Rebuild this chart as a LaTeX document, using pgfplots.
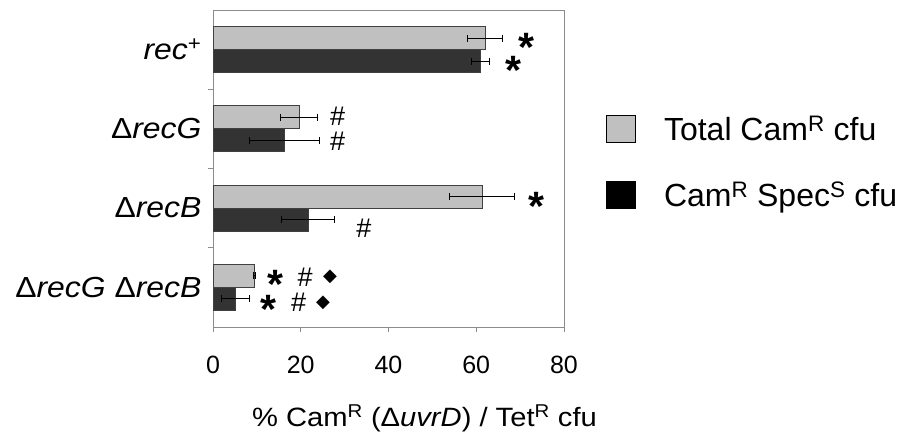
\documentclass[border=0pt]{standalone}
\usepackage{pgfplots}
\pgfplotsset{compat=1.18}
\usepackage{fontspec}
\setmainfont{Liberation Sans}
\newfontfamily\wide[FakeStretch=1.1]{Liberation Sans}
\newfontfamily\djv{DejaVu Sans}
\definecolor{lgray}{HTML}{C0C0C0}
\definecolor{dgray}{HTML}{333333}
\definecolor{axgray}{HTML}{8C8C8C}
\newcommand{\fs}{\fontsize{25}{30}\selectfont}
\newcommand{\astm}[2]{\node[font=\fontsize{41}{41}\selectfont\bfseries, inner sep=0pt, anchor=center, yshift=-7pt] at (axis cs:#1,#2) {*};}
\newcommand{\hash}[2]{\node[font=\fontsize{27}{27}\selectfont, inner sep=0pt, anchor=center] at (axis cs:#1,#2) {\#};}
\newcommand{\dia}[2]{\node[font=\djv\fontsize{18}{18}\selectfont, inner sep=0pt, anchor=center] at (axis cs:#1,#2) {◆};}
\begin{document}
\begin{tikzpicture}
\begin{axis}[
  scale only axis, width=351pt, height=317pt,
  xmin=0, xmax=80, ymin=-0.5, ymax=3.5,
  axis line style={draw=axgray, line width=0.9pt},
  xtick={0,20,40,60,80},
  xtick pos=lower, ytick pos=lower,
  tick align=outside,
  major tick length=5pt,
  tick style={draw=axgray, line width=0.9pt},
  ytick={0.5,1.5,2.5}, yticklabels={},
  extra y ticks={0,1,2,3},
  extra y tick labels={Δ\textit{recG} Δ\textit{recB}, Δ\textit{recB}, Δ\textit{recG}, \textit{rec}\textsuperscript{+}},
  extra y tick style={major tick length=0pt, yticklabel style={xshift=-8pt, font=\wide\fontsize{29}{32}\selectfont}},
  xticklabel style={font=\fs, yshift=-21pt},
  /pgf/number format/assume math mode=true,
  xlabel={\% Cam\textsuperscript{R} (Δ\textit{uvrD}) / Tet\textsuperscript{R} cfu},
  xlabel style={font=\wide\fontsize{26.5}{30}\selectfont, xshift=36pt, yshift=-24pt},
  xbar, bar width=0.29,
  legend style={at={(rel axis cs:1.11,0.678)}, anchor=north west, draw=none, font=\fontsize{32}{36}\selectfont, row sep=36pt, fill=none,
    /tikz/every odd column/.append style={column sep=26pt}},
  legend cell align=left,
  legend image code/.code={\draw[fill=lgray, draw=black, line width=1.2pt] (0pt,-13.5pt) rectangle (29pt,13.5pt);},
  error bars/error bar style={line width=0.8pt, black},
  error bars/error mark options={rotate=90, mark size=3.5pt, line width=0.8pt, black},
]
\addplot[fill=lgray, draw=black!75, line width=0.8pt, bar shift=0.145,
  error bars/.cd, x dir=both, x explicit]
  coordinates {(62,3) +- (4,0) (19.6,2) +- (4.2,0) (61.3,1) +- (7.5,0) (9.4,0) +- (0.3,0)};
\addlegendentry{Total Cam\textsuperscript{R} cfu}
\addplot[fill=dgray, draw=black!75, line width=0.8pt, bar shift=-0.145,
  legend image code/.code={\draw[fill=black, draw=black] (0pt,-13.5pt) rectangle (29pt,13.5pt);},
  error bars/.cd, x dir=both, x explicit]
  coordinates {(61,3) +- (2,0) (16.2,2) +- (8,0) (21.7,1) +- (6,0) (5.1,0) +- (3.1,0)};
\addlegendentry{Cam\textsuperscript{R} Spec\textsuperscript{S} cfu}
\astm{71.5}{3.12}
\astm{68.5}{2.82}
\hash{28.4}{2.16}
\hash{28.4}{1.85}
\astm{73.8}{1.11}
\hash{34.4}{0.75}
\astm{14.3}{0.13}
\hash{21.0}{0.13}
\dia{26.7}{0.13}
\astm{12.6}{-0.19}
\hash{19.5}{-0.19}
\dia{25.1}{-0.19}
\end{axis}
\pgfresetboundingbox
\path[use as bounding box] ([xshift=-213pt,yshift=-104pt]current axis.south west) rectangle ([xshift=334pt,yshift=10pt]current axis.north east);
\end{tikzpicture}
\end{document}
